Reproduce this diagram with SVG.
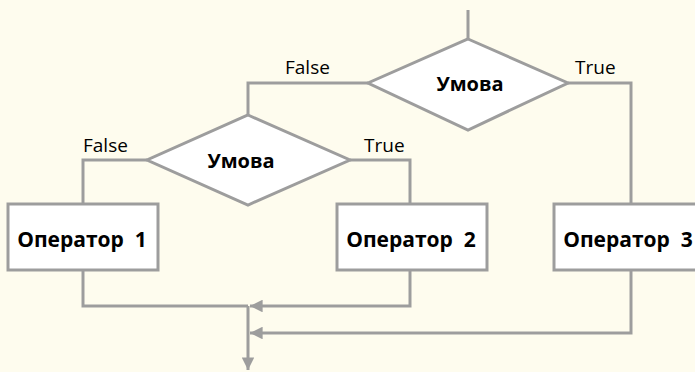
<svg xmlns="http://www.w3.org/2000/svg" width="695" height="372" viewBox="0 0 695 372">
<defs>
<style>
.ln{fill:none;stroke:#9d9d9d;stroke-width:3}
.sh{fill:#ffffff;stroke:#9d9d9d;stroke-width:3}
.lb{font-family:"Open Sans","DejaVu Sans",sans-serif;font-size:20px;font-weight:bold;fill:#000;text-anchor:middle;white-space:pre}
.op{font-size:21px}
.tf{font-family:"Open Sans","DejaVu Sans",sans-serif;font-size:19px;fill:#000}
</style>
<marker id="ah" viewBox="0 0 10 10" refX="10" refY="5" markerWidth="4.8" markerHeight="4.2" markerUnits="strokeWidth" orient="auto">
<path d="M0,0 L10,5 L0,10 z" fill="#9d9d9d"/>
</marker>
</defs>
<rect width="695" height="372" fill="#fefcee"/>
<g id="connectors">
<path class="ln" d="M468,10 V39"/>
<path class="ln" d="M368,83 H248 V115"/>
<path class="ln" d="M568,83 H631 V204"/>
<path class="ln" d="M147,160 H83 V204"/>
<path class="ln" d="M350,160 H410 V204"/>
<path class="ln" d="M83,270 V306 H248"/>
<path class="ln" d="M410,270 V306 H250" marker-end="url(#ah)"/>
<path class="ln" d="M631,270 V333 H250" marker-end="url(#ah)"/>
<path class="ln" d="M248,306 V370" marker-end="url(#ah)"/>
</g>
<g id="cond1">
<polygon class="sh" points="468,39 568,83 468,130 368,83"/>
<text class="lb" x="470" y="91">Умова</text>
</g>
<g id="cond2">
<polygon class="sh" points="248,115 350,160 248,205 147,160"/>
<text class="lb" x="241" y="168">Умова</text>
</g>
<g id="op1">
<rect class="sh" x="8" y="204" width="150" height="66"/>
<text class="lb op" x="82" y="247">Оператор  1</text>
</g>
<g id="op2">
<rect class="sh" x="337" y="204" width="150" height="66"/>
<text class="lb op" x="411" y="247">Оператор  2</text>
</g>
<g id="op3">
<rect class="sh" x="554" y="204" width="154" height="66"/>
<text class="lb op" x="628" y="247">Оператор  3</text>
</g>
<g id="labels">
<text class="tf" x="285" y="74">False</text>
<text class="tf" x="575" y="74">True</text>
<text class="tf" x="83" y="152">False</text>
<text class="tf" x="364" y="152">True</text>
</g>
</svg>
